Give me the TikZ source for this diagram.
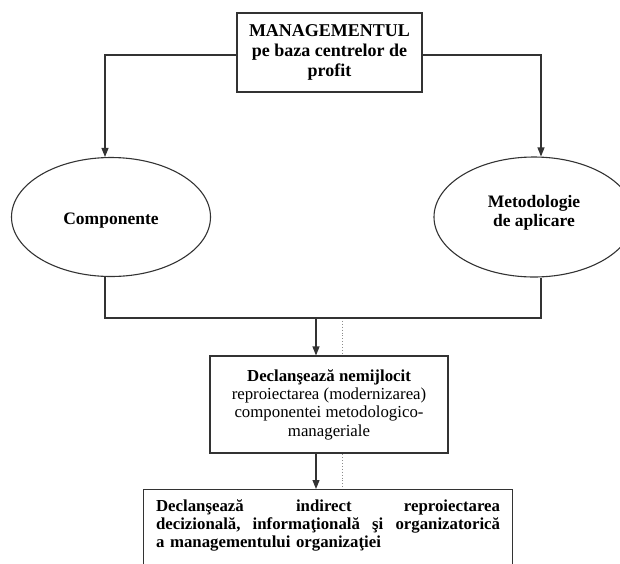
\documentclass[tikz,border=0pt]{standalone}
\usepackage{fontspec}
\setmainfont{Liberation Serif}
\usetikzlibrary{arrows.meta,shapes.geometric,backgrounds}
\begin{document}
\begin{tikzpicture}[x=1pt,y=-1pt,
  line/.style={draw=black!80, line width=1.1pt},
  arr/.style={line, -{Triangle[length=9pt,width=7pt]}},
  box/.style={line, fill=white, rectangle, inner sep=0pt},
  oval/.style={line, ellipse, inner sep=0pt},
  ovaltext/.style={align=center, inner sep=0pt,
    font=\bfseries\fontsize{17.5}{19.5}\selectfont},
  guide/.style={draw=black!45, line width=0.9pt, dotted}
]
\useasboundingbox (0,0) rectangle (620,563);

% top box
\node[box, minimum width=185pt, minimum height=79pt, align=center,
  font=\bfseries\fontsize{18}{20}\selectfont] (top) at (329.5,52.5)
  {MANAGEMENTUL\\pe baza centrelor de\\profit};

% the two ovals and their labels
\node[oval, minimum width=199pt, minimum height=119pt] (comp) at (111,217) {};
\node[oval, minimum width=200pt, minimum height=120pt] (meth) at (534,217) {};
\node[ovaltext] (compt) at (111,221) {Componente};
\node[ovaltext] (metht) at (534,213) {Metodologie\\de aplicare};

% branches from the top box
\coordinate (tl) at (105,55);
\coordinate (tr) at (541,55);
\draw[arr] (top.west |- tl) -- (tl) -- (tl |- comp.north);
\draw[arr] (top.east |- tr) -- (tr) -- (tr |- meth.north);

% joining line under the ovals
\coordinate (bl) at (105,318);
\coordinate (br) at (541,318);
\draw[line] (bl |- comp.south) -- (bl) -- (br) -- (br |- meth.south);
\coordinate (ja) at (316,318);
\coordinate (jd) at (342,318);

% middle box
\node[box, minimum width=238pt, minimum height=97pt, align=center,
  font=\fontsize{16.8}{18.4}\selectfont] (mid) at (329,404.5)
  {\textbf{Declanşează nemijlocit}\\reproiectarea (modernizarea)\\componentei metodologico-\\manageriale};

% lower box, running past the lower edge
\node[box, anchor=north west, text width=344pt, inner xsep=12.5pt, inner ysep=10pt,
  text depth=70pt, align=left, font=\bfseries\fontsize{16.8}{18}\selectfont] (low) at (143,489)
  {Declanşează\hfill indirect\hfill reproiectarea\\
   decizională,\hfill informaţională\hfill şi\hfill organizatorică\\
   a managementului organizaţiei};

\draw[arr] (ja) -- (ja |- mid.north);
\draw[arr] (ja |- mid.south) -- (ja |- low.north);

\begin{scope}[on background layer]
  \draw[guide] (jd) -- (jd |- low.north);
\end{scope}
\end{tikzpicture}
\end{document}
